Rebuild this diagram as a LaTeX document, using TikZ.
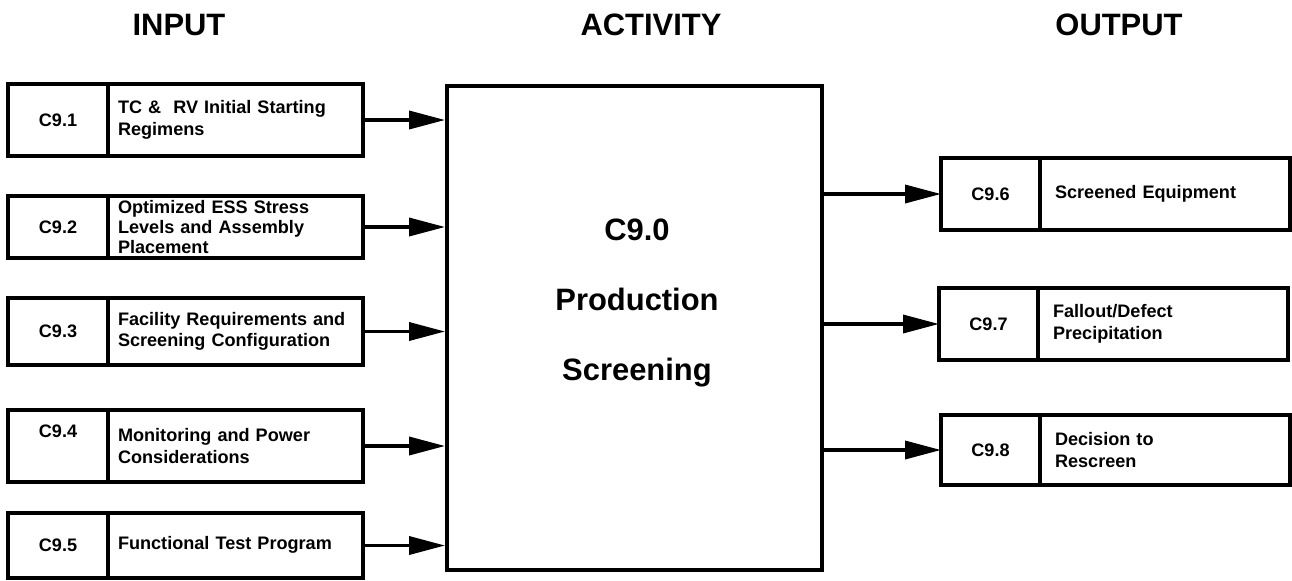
\documentclass[tikz,border=0pt]{standalone}
\usepackage{fontspec}
\setmainfont{Liberation Sans}
\usetikzlibrary{positioning,arrows.meta}

\begin{document}
\begin{tikzpicture}[thick,
        codebox/.style = {draw, line width=2pt, outer sep=0pt, minimum width=2cm,
                          font=\fontsize{10.3}{12.3}\selectfont\bfseries},
        descbox/.style = {draw, line width=2pt, outer sep=0pt, inner xsep=0.2cm, inner ysep=1pt,
                          text width=4.7cm, align=left,
                          font=\fontsize{10.3}{12.3}\selectfont\bfseries},
        outdesc/.style = {descbox, inner xsep=0.3cm, text width=4.4cm},
        head/.style = {font=\fontsize{17.6}{20}\selectfont\bfseries},
        flow/.style = {line width=2pt, -{Triangle[length=7.2mm, width=3.6mm]}}]
        \useasboundingbox (0,0) rectangle (25.84,-11.6);

        % headers
        \node[head, anchor = center] (hin) at (3.58,-0.5){INPUT};
        \node[head, anchor = center] (hact) at (13.02,-0.5){ACTIVITY};
        \node[head, anchor = center] (hout) at (22.38,-0.5){OUTPUT};

        % activity
        \node[draw, line width=2.2pt, minimum width=7.5cm, minimum height=9.68cm] (act) at (12.69,-6.56){};
        \node[align=center, font=\fontsize{17.6}{39.7}\selectfont\bfseries] (acttxt) at (12.74,-6.06){C9.0\\Production\\Screening};

        % input boxes
        \node[codebox, minimum height=1.44cm] (c1) at (1.16,-2.4){C9.1};
        \node[descbox, minimum height=1.44cm, right=0pt of c1] (d1){TC \&\ \ RV Initial Starting\\Regimens};
        \node[codebox, minimum height=1.24cm] (c2) at (1.16,-4.54){C9.2};
        \node[descbox, minimum height=1.24cm, inner ysep=0pt, font=\fontsize{10.3}{11.6}\selectfont\bfseries, right=0pt of c2] (d2){Optimized ESS Stress\\Levels and Assembly\\Placement};
        \node[codebox, minimum height=1.34cm] (c3) at (1.16,-6.63){C9.3};
        \node[descbox, minimum height=1.34cm, right=0pt of c3] (d3){Facility Requirements and\\Screening Configuration};
        \node[codebox, minimum height=1.44cm] (c4) at (1.16,-8.92){\raisebox{0.6cm}{C9.4}};
        \node[descbox, minimum height=1.44cm, right=0pt of c4] (d4){Monitoring and Power\\Considerations};
        \node[codebox, minimum height=1.3cm] (c5) at (1.16,-10.91){C9.5};
        \node[descbox, minimum height=1.3cm, right=0pt of c5] (d5){\raisebox{0.1cm}{Functional Test Program}};

        % output boxes
        \node[codebox, minimum width=1.98cm, minimum height=1.44cm] (c6) at (19.81,-3.88){C9.6};
        \node[outdesc, minimum height=1.44cm, right=0pt of c6] (d6){Screened Equipment};
        \node[codebox, minimum width=1.98cm, minimum height=1.44cm] (c7) at (19.77,-6.48){C9.7};
        \node[outdesc, minimum height=1.44cm, right=0pt of c7] (d7){Fallout/Defect\\Precipitation};
        \node[codebox, minimum width=1.98cm, minimum height=1.4cm] (c8) at (19.81,-9.0){\raisebox{-0.2cm}{C9.8}};
        \node[outdesc, minimum height=1.4cm, right=0pt of c8] (d8){Decision to\\Rescreen};

        % arrows
        \foreach \i in {1,...,5}
            \draw[flow] (d\i.east) -- (d\i.east -| act.west);
        \foreach \i in {6,7,8}
            \draw[flow] (act.east |- c\i.west) -- (c\i.west);
    \end{tikzpicture}
\end{document}
